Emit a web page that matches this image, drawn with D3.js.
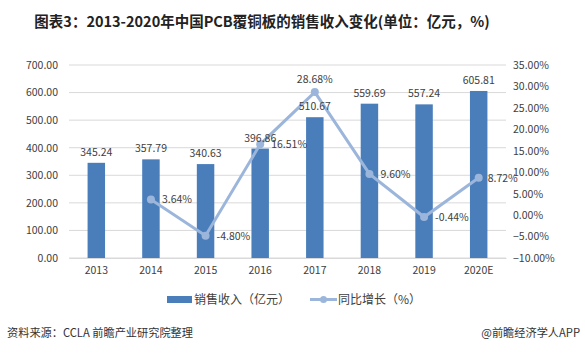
<!DOCTYPE html>
<html><head><meta charset="utf-8">
<script src="https://cdn.jsdelivr.net/npm/d3@7"></script>
<style>body{margin:0;background:#fff;font-family:"Microsoft YaHei","Noto Sans CJK SC",sans-serif;}</style>
</head><body>
<svg id="c" width="585" height="355"></svg>
<script>
const categories = ["2013","2014","2015","2016","2017","2018","2019","2020E"];
const revenue = [345.24,357.79,340.63,396.86,510.67,559.69,557.24,605.81];
const growth = [null,3.64,-4.80,16.51,28.68,9.60,-0.44,8.72];
const leftTicks = [0,100,200,300,400,500,600,700];
const rightTicks = [-10,-5,0,5,10,15,20,25,30,35];
const titleText = "图表3：2013-2020年中国PCB覆铜板的销售收入变化(单位：亿元，%)";
const sourceText = "资料来源：CCLA 前瞻产业研究院整理";
const brandText = "@前瞻经济学人APP";
const legendBar = "销售收入（亿元）";
const legendLine = "同比增长（%）";

(function(){
const svg = d3.select("#c");
const font = '"Noto Sans CJK SC",sans-serif';
const pl = 69, pr = 506, pt = 65, pb = 258;
const x = d3.scaleBand().domain(categories).range([pl, pr]).paddingInner(0.68).paddingOuter(0.34);
const yL = d3.scaleLinear().domain([0,700]).range([pb, pt]);
const yR = d3.scaleLinear().domain([-10,35]).range([pb, pt]);
const barColor = "#4A7EBB", lineColor = "#9CB6DB", textColor = "#404040";
const fs = 10.5;

svg.append("text").attr("x",262).attr("y",27).attr("text-anchor","middle")
  .attr("font-family",font).attr("font-weight","bold").attr("font-size",14.5).attr("fill","#222").text(titleText);

svg.append("g").selectAll("line").data(leftTicks).join("line")
  .attr("x1",pl).attr("x2",pr).attr("y1",d=>yL(d)).attr("y2",d=>yL(d))
  .attr("stroke","#D9D9D9").attr("stroke-width",1);

const axL = d3.axisLeft(yL).tickValues(leftTicks).tickFormat(d3.format(".2f")).tickSize(0).tickPadding(11);
const gL = svg.append("g").attr("transform",`translate(${pl},0)`).call(axL);
gL.select(".domain").remove();
gL.selectAll("text").attr("font-family",font).attr("font-size",fs).attr("fill",textColor);

const axR = d3.axisRight(yR).tickValues(rightTicks).tickFormat(d=>d3.format(".2f")(d)+"%").tickSize(0).tickPadding(7);
const gR = svg.append("g").attr("transform",`translate(${pr},0)`).call(axR);
gR.select(".domain").remove();
gR.selectAll("text").attr("font-family",font).attr("font-size",fs).attr("fill",textColor);

const axB = d3.axisBottom(x).tickSize(0).tickPadding(9);
const gB = svg.append("g").attr("transform",`translate(0,${pb})`).call(axB);
gB.select(".domain").attr("stroke","#D9D9D9");
gB.selectAll("text").attr("font-family",font).attr("font-size",fs).attr("fill",textColor);

svg.append("g").selectAll("rect").data(revenue).join("rect")
  .attr("x",(d,i)=>x(categories[i])).attr("width",x.bandwidth())
  .attr("y",d=>yL(d)).attr("height",d=>pb-yL(d)).attr("fill",barColor);

const pts = growth.map((g,i)=>({c:categories[i],g})).filter(d=>d.g!==null);
const line = d3.line().x(d=>x(d.c)+x.bandwidth()/2).y(d=>yR(d.g));
svg.append("path").datum(pts).attr("d",line).attr("fill","none").attr("stroke",lineColor).attr("stroke-width",3);
svg.append("g").selectAll("circle").data(pts).join("circle")
  .attr("cx",d=>x(d.c)+x.bandwidth()/2).attr("cy",d=>yR(d.g)).attr("r",4).attr("fill",lineColor);

svg.append("g").selectAll("text").data(revenue).join("text")
  .attr("x",(d,i)=>x(categories[i])+x.bandwidth()/2).attr("y",d=>yL(d)-7)
  .attr("text-anchor","middle").attr("font-family",font).attr("font-size",fs).attr("fill",textColor)
  .text(d=>d.toFixed(2));
svg.append("g").selectAll("text").data(pts).join("text")
  .attr("x",d=>x(d.c)+x.bandwidth()/2 + (d.c==="2017"?0:(d.c==="2020E"?9:11)))
  .attr("y",d=>d.c==="2017"? yR(d.g)-9 : yR(d.g)+4)
  .attr("text-anchor",d=>d.c==="2017"?"middle":"start")
  .attr("font-family",font).attr("font-size",fs).attr("fill",textColor)
  .text(d=>d.g.toFixed(2)+"%");

const lg = svg.append("g");
lg.append("rect").attr("x",167).attr("y",296).attr("width",25).attr("height",7).attr("fill",barColor);
lg.append("text").attr("x",194).attr("y",304).attr("font-family",font).attr("font-size",12).attr("fill",textColor).text(legendBar);
lg.append("line").attr("x1",310).attr("x2",337).attr("y1",299.5).attr("y2",299.5).attr("stroke",lineColor).attr("stroke-width",3);
lg.append("circle").attr("cx",323.5).attr("cy",299.5).attr("r",3.5).attr("fill",lineColor);
lg.append("text").attr("x",338).attr("y",304).attr("font-family",font).attr("font-size",12).attr("fill",textColor).text(legendLine);

svg.append("text").attr("x",7).attr("y",337).attr("font-family",font).attr("font-size",11.2).attr("fill","#333").text(sourceText);
svg.append("text").attr("x",580).attr("y",337).attr("text-anchor","end").attr("font-family",font).attr("font-size",11.2).attr("fill","#333").text(brandText);
})();
</script>
</body></html>
